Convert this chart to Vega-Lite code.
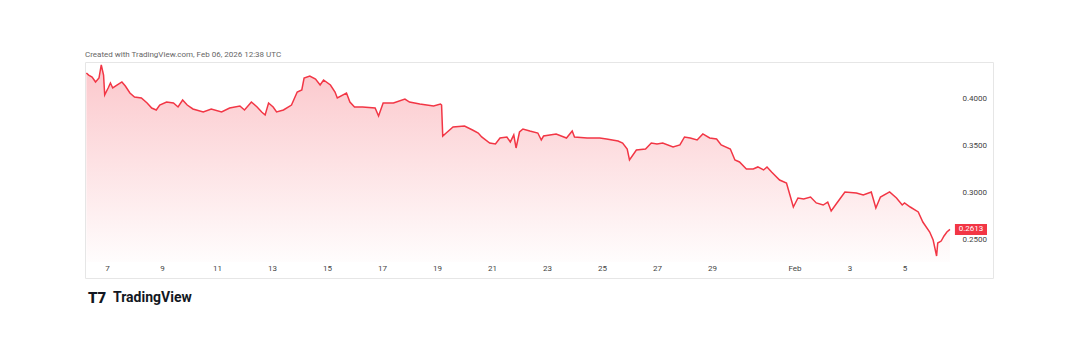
{
  "$schema": "https://vega.github.io/schema/vega-lite/v6.json",
  "width": 908,
  "height": 216,
  "autosize": {"type": "none"},
  "padding": {"left": 85, "top": 62, "right": 87, "bottom": 76},
  "background": "white",
  "config": {
    "view": {"stroke": "#e6e6e6", "strokeWidth": 1},
    "font": "Roboto",
    "axis": {"labelFont": "Roboto"}
  },
  "title": {
    "text": "Created with TradingView.com, Feb 06, 2026 12:38 UTC",
    "anchor": "start",
    "frame": "group",
    "fontSize": 8,
    "fontWeight": "normal",
    "color": "#666666",
    "font": "Roboto",
    "offset": 3
  },
  "datasets": {
    "price": [
      {"t": "2026-01-06T06:00:00Z", "v": 0.4277},
      {"t": "2026-01-06T08:00:00Z", "v": 0.4255},
      {"t": "2026-01-06T11:00:00Z", "v": 0.4234},
      {"t": "2026-01-06T14:00:00Z", "v": 0.4181},
      {"t": "2026-01-06T17:00:00Z", "v": 0.4223},
      {"t": "2026-01-06T19:00:00Z", "v": 0.4362},
      {"t": "2026-01-06T21:00:00Z", "v": 0.4255},
      {"t": "2026-01-06T22:00:00Z", "v": 0.4043},
      {"t": "2026-01-07T01:00:00Z", "v": 0.4117},
      {"t": "2026-01-07T03:00:00Z", "v": 0.4170},
      {"t": "2026-01-07T05:00:00Z", "v": 0.4117},
      {"t": "2026-01-07T09:00:00Z", "v": 0.4149},
      {"t": "2026-01-07T13:00:00Z", "v": 0.4181},
      {"t": "2026-01-07T16:00:00Z", "v": 0.4138},
      {"t": "2026-01-07T20:00:00Z", "v": 0.4064},
      {"t": "2026-01-08T00:00:00Z", "v": 0.4021},
      {"t": "2026-01-08T06:00:00Z", "v": 0.4011},
      {"t": "2026-01-08T11:00:00Z", "v": 0.3957},
      {"t": "2026-01-08T15:00:00Z", "v": 0.3904},
      {"t": "2026-01-08T19:00:00Z", "v": 0.3883},
      {"t": "2026-01-08T22:00:00Z", "v": 0.3936},
      {"t": "2026-01-09T04:00:00Z", "v": 0.3968},
      {"t": "2026-01-09T10:00:00Z", "v": 0.3957},
      {"t": "2026-01-09T14:00:00Z", "v": 0.3915},
      {"t": "2026-01-09T18:00:00Z", "v": 0.3989},
      {"t": "2026-01-09T22:00:00Z", "v": 0.3936},
      {"t": "2026-01-10T03:00:00Z", "v": 0.3894},
      {"t": "2026-01-10T12:00:00Z", "v": 0.3862},
      {"t": "2026-01-10T19:00:00Z", "v": 0.3894},
      {"t": "2026-01-11T04:00:00Z", "v": 0.3862},
      {"t": "2026-01-11T11:00:00Z", "v": 0.3904},
      {"t": "2026-01-11T20:00:00Z", "v": 0.3926},
      {"t": "2026-01-12T00:00:00Z", "v": 0.3883},
      {"t": "2026-01-12T06:00:00Z", "v": 0.3968},
      {"t": "2026-01-12T11:00:00Z", "v": 0.3915},
      {"t": "2026-01-12T15:00:00Z", "v": 0.3862},
      {"t": "2026-01-12T18:00:00Z", "v": 0.3830},
      {"t": "2026-01-12T21:00:00Z", "v": 0.3957},
      {"t": "2026-01-13T01:00:00Z", "v": 0.3915},
      {"t": "2026-01-13T04:00:00Z", "v": 0.3862},
      {"t": "2026-01-13T10:00:00Z", "v": 0.3883},
      {"t": "2026-01-13T17:00:00Z", "v": 0.3936},
      {"t": "2026-01-13T22:00:00Z", "v": 0.4074},
      {"t": "2026-01-14T02:00:00Z", "v": 0.4096},
      {"t": "2026-01-14T04:00:00Z", "v": 0.4223},
      {"t": "2026-01-14T09:00:00Z", "v": 0.4245},
      {"t": "2026-01-14T14:00:00Z", "v": 0.4213},
      {"t": "2026-01-14T18:00:00Z", "v": 0.4149},
      {"t": "2026-01-14T21:00:00Z", "v": 0.4202},
      {"t": "2026-01-15T03:00:00Z", "v": 0.4149},
      {"t": "2026-01-15T07:00:00Z", "v": 0.4074},
      {"t": "2026-01-15T09:00:00Z", "v": 0.4011},
      {"t": "2026-01-15T17:00:00Z", "v": 0.4064},
      {"t": "2026-01-15T20:00:00Z", "v": 0.3968},
      {"t": "2026-01-16T00:00:00Z", "v": 0.3915},
      {"t": "2026-01-16T07:00:00Z", "v": 0.3915},
      {"t": "2026-01-16T18:00:00Z", "v": 0.3904},
      {"t": "2026-01-16T21:00:00Z", "v": 0.3819},
      {"t": "2026-01-17T01:00:00Z", "v": 0.3957},
      {"t": "2026-01-17T10:00:00Z", "v": 0.3957},
      {"t": "2026-01-17T20:00:00Z", "v": 0.4000},
      {"t": "2026-01-18T00:00:00Z", "v": 0.3968},
      {"t": "2026-01-18T09:00:00Z", "v": 0.3947},
      {"t": "2026-01-18T21:00:00Z", "v": 0.3926},
      {"t": "2026-01-19T03:00:00Z", "v": 0.3947},
      {"t": "2026-01-19T04:00:00Z", "v": 0.3936},
      {"t": "2026-01-19T05:00:00Z", "v": 0.3606},
      {"t": "2026-01-19T08:00:00Z", "v": 0.3638},
      {"t": "2026-01-19T14:00:00Z", "v": 0.3702},
      {"t": "2026-01-20T00:00:00Z", "v": 0.3713},
      {"t": "2026-01-20T07:00:00Z", "v": 0.3670},
      {"t": "2026-01-20T12:00:00Z", "v": 0.3638},
      {"t": "2026-01-20T15:00:00Z", "v": 0.3596},
      {"t": "2026-01-20T22:00:00Z", "v": 0.3532},
      {"t": "2026-01-21T03:00:00Z", "v": 0.3521},
      {"t": "2026-01-21T07:00:00Z", "v": 0.3585},
      {"t": "2026-01-21T13:00:00Z", "v": 0.3596},
      {"t": "2026-01-21T16:00:00Z", "v": 0.3543},
      {"t": "2026-01-21T19:00:00Z", "v": 0.3617},
      {"t": "2026-01-21T21:00:00Z", "v": 0.3479},
      {"t": "2026-01-22T00:00:00Z", "v": 0.3649},
      {"t": "2026-01-22T03:00:00Z", "v": 0.3681},
      {"t": "2026-01-22T09:00:00Z", "v": 0.3660},
      {"t": "2026-01-22T16:00:00Z", "v": 0.3638},
      {"t": "2026-01-22T19:00:00Z", "v": 0.3564},
      {"t": "2026-01-22T21:00:00Z", "v": 0.3606},
      {"t": "2026-01-23T08:00:00Z", "v": 0.3628},
      {"t": "2026-01-23T17:00:00Z", "v": 0.3585},
      {"t": "2026-01-23T22:00:00Z", "v": 0.3660},
      {"t": "2026-01-24T00:00:00Z", "v": 0.3596},
      {"t": "2026-01-24T11:00:00Z", "v": 0.3585},
      {"t": "2026-01-24T22:00:00Z", "v": 0.3585},
      {"t": "2026-01-25T04:00:00Z", "v": 0.3574},
      {"t": "2026-01-25T14:00:00Z", "v": 0.3553},
      {"t": "2026-01-25T18:00:00Z", "v": 0.3532},
      {"t": "2026-01-25T22:00:00Z", "v": 0.3468},
      {"t": "2026-01-26T00:00:00Z", "v": 0.3351},
      {"t": "2026-01-26T06:00:00Z", "v": 0.3457},
      {"t": "2026-01-26T14:00:00Z", "v": 0.3468},
      {"t": "2026-01-26T19:00:00Z", "v": 0.3532},
      {"t": "2026-01-27T00:00:00Z", "v": 0.3521},
      {"t": "2026-01-27T05:00:00Z", "v": 0.3532},
      {"t": "2026-01-27T14:00:00Z", "v": 0.3489},
      {"t": "2026-01-27T20:00:00Z", "v": 0.3511},
      {"t": "2026-01-28T00:00:00Z", "v": 0.3596},
      {"t": "2026-01-28T05:00:00Z", "v": 0.3585},
      {"t": "2026-01-28T11:00:00Z", "v": 0.3564},
      {"t": "2026-01-28T16:00:00Z", "v": 0.3628},
      {"t": "2026-01-28T22:00:00Z", "v": 0.3585},
      {"t": "2026-01-29T04:00:00Z", "v": 0.3574},
      {"t": "2026-01-29T08:00:00Z", "v": 0.3511},
      {"t": "2026-01-29T16:00:00Z", "v": 0.3468},
      {"t": "2026-01-29T20:00:00Z", "v": 0.3351},
      {"t": "2026-01-30T00:00:00Z", "v": 0.3330},
      {"t": "2026-01-30T06:00:00Z", "v": 0.3255},
      {"t": "2026-01-30T12:00:00Z", "v": 0.3255},
      {"t": "2026-01-30T16:00:00Z", "v": 0.3277},
      {"t": "2026-01-30T21:00:00Z", "v": 0.3245},
      {"t": "2026-01-31T00:00:00Z", "v": 0.3277},
      {"t": "2026-01-31T04:00:00Z", "v": 0.3223},
      {"t": "2026-01-31T11:00:00Z", "v": 0.3138},
      {"t": "2026-01-31T17:00:00Z", "v": 0.3106},
      {"t": "2026-01-31T20:00:00Z", "v": 0.2979},
      {"t": "2026-01-31T23:00:00Z", "v": 0.2851},
      {"t": "2026-02-01T03:00:00Z", "v": 0.2947},
      {"t": "2026-02-01T08:00:00Z", "v": 0.2936},
      {"t": "2026-02-01T14:00:00Z", "v": 0.2957},
      {"t": "2026-02-01T19:00:00Z", "v": 0.2894},
      {"t": "2026-02-02T01:00:00Z", "v": 0.2872},
      {"t": "2026-02-02T05:00:00Z", "v": 0.2904},
      {"t": "2026-02-02T08:00:00Z", "v": 0.2809},
      {"t": "2026-02-02T13:00:00Z", "v": 0.2894},
      {"t": "2026-02-02T20:00:00Z", "v": 0.3011},
      {"t": "2026-02-03T06:00:00Z", "v": 0.3000},
      {"t": "2026-02-03T12:00:00Z", "v": 0.2979},
      {"t": "2026-02-03T19:00:00Z", "v": 0.3011},
      {"t": "2026-02-03T23:00:00Z", "v": 0.2840},
      {"t": "2026-02-04T03:00:00Z", "v": 0.2957},
      {"t": "2026-02-04T11:00:00Z", "v": 0.3011},
      {"t": "2026-02-04T17:00:00Z", "v": 0.2947},
      {"t": "2026-02-04T22:00:00Z", "v": 0.2872},
      {"t": "2026-02-05T00:00:00Z", "v": 0.2894},
      {"t": "2026-02-05T05:00:00Z", "v": 0.2851},
      {"t": "2026-02-05T12:00:00Z", "v": 0.2798},
      {"t": "2026-02-05T16:00:00Z", "v": 0.2691},
      {"t": "2026-02-05T22:00:00Z", "v": 0.2585},
      {"t": "2026-02-06T01:00:00Z", "v": 0.2500},
      {"t": "2026-02-06T04:00:00Z", "v": 0.2330},
      {"t": "2026-02-06T05:00:00Z", "v": 0.2468},
      {"t": "2026-02-06T08:00:00Z", "v": 0.2489},
      {"t": "2026-02-06T10:30:00Z", "v": 0.2543},
      {"t": "2026-02-06T13:00:00Z", "v": 0.2585},
      {"t": "2026-02-06T15:40:00Z", "v": 0.2613}
    ]
  },
  "layer": [
    {
      "data": {"name": "price"},
      "mark": {
        "type": "area",
        "clip": true,
        "fill": {
          "gradient": "linear",
          "x1": 0, "y1": 0, "x2": 0, "y2": 1,
          "stops": [
            {"offset": 0, "color": "rgba(242,54,69,0.28)"},
            {"offset": 1, "color": "rgba(242,54,69,0.01)"}
          ]
        }
      },
      "encoding": {
        "x": {
          "field": "t",
          "type": "temporal",
          "scale": {
            "type": "utc",
            "domain": [
              {"year": 2026, "month": 1, "date": 6, "hours": 4, "minutes": 48, "utc": true},
              {"year": 2026, "month": 2, "date": 8, "hours": 5, "minutes": 14, "utc": true}
            ]
          },
          "axis": {
            "orient": "bottom",
            "offset": -14,
            "title": null,
            "grid": false,
            "domain": false,
            "ticks": false,
            "tickSize": 0,
            "labelPadding": 0,
            "labelFontSize": 8,
            "labelColor": "#444444",
            "labelFlush": false,
            "labelOverlap": false,
            "values": [
              {"year": 2026, "month": 1, "date": 7, "utc": true},
              {"year": 2026, "month": 1, "date": 9, "utc": true},
              {"year": 2026, "month": 1, "date": 11, "utc": true},
              {"year": 2026, "month": 1, "date": 13, "utc": true},
              {"year": 2026, "month": 1, "date": 15, "utc": true},
              {"year": 2026, "month": 1, "date": 17, "utc": true},
              {"year": 2026, "month": 1, "date": 19, "utc": true},
              {"year": 2026, "month": 1, "date": 21, "utc": true},
              {"year": 2026, "month": 1, "date": 23, "utc": true},
              {"year": 2026, "month": 1, "date": 25, "utc": true},
              {"year": 2026, "month": 1, "date": 27, "utc": true},
              {"year": 2026, "month": 1, "date": 29, "utc": true},
              {"year": 2026, "month": 2, "date": 1, "utc": true},
              {"year": 2026, "month": 2, "date": 3, "utc": true},
              {"year": 2026, "month": 2, "date": 5, "utc": true}
            ],
            "labelExpr": "utcdate(datum.value) == 1 ? 'Feb' : '' + utcdate(datum.value)"
          }
        },
        "y": {
          "field": "v",
          "type": "quantitative",
          "scale": {"domain": [0.20957, 0.43936], "zero": false, "nice": false},
          "axis": {
            "orient": "right",
            "offset": -31,
            "title": null,
            "grid": false,
            "domain": false,
            "ticks": false,
            "tickSize": 0,
            "labelPadding": 0,
            "labelFontSize": 8,
            "labelColor": "#444444",
            "values": [0.25, 0.3, 0.35, 0.4],
            "format": ".4f"
          }
        },
        "y2": {"datum": 0.2266}
      }
    },
    {
      "data": {"name": "price"},
      "mark": {"type": "line", "color": "#f23645", "strokeWidth": 1.5, "clip": true},
      "encoding": {
        "x": {"field": "t", "type": "temporal"},
        "y": {"field": "v", "type": "quantitative"}
      }
    },
    {
      "data": {"values": [{"label": "0.2613"}]},
      "mark": {"type": "rect", "color": "#f23645"},
      "encoding": {
        "x": {"datum": {"year": 2026, "month": 2, "date": 6, "hours": 20, "utc": true}, "type": "temporal"},
        "x2": {"datum": {"year": 2026, "month": 2, "date": 8, "utc": true}},
        "y": {"datum": 0.2670, "type": "quantitative"},
        "y2": {"datum": 0.2553}
      }
    },
    {
      "data": {"values": [{"label": "0.2613"}]},
      "mark": {"type": "text", "color": "white", "fontSize": 8, "align": "center", "baseline": "middle", "font": "Roboto"},
      "encoding": {
        "x": {"datum": {"year": 2026, "month": 2, "date": 7, "hours": 10, "utc": true}, "type": "temporal"},
        "y": {"datum": 0.2613, "type": "quantitative"},
        "text": {"field": "label"}
      }
    },
    {
      "data": {"values": [{"label": "T7"}]},
      "mark": {"type": "text", "color": "#131722", "fontSize": 15, "fontWeight": 900, "align": "left", "baseline": "middle", "font": "Roboto"},
      "encoding": {
        "x": {"datum": {"year": 2026, "month": 1, "date": 6, "hours": 7, "minutes": 25, "utc": true}, "type": "temporal"},
        "y": {"datum": 0.1883, "type": "quantitative"},
        "text": {"field": "label"}
      }
    },
    {
      "data": {"values": [{"label": "TradingView"}]},
      "mark": {"type": "text", "color": "#131722", "fontSize": 14, "fontWeight": "bold", "align": "left", "baseline": "middle", "font": "Roboto"},
      "encoding": {
        "x": {"datum": {"year": 2026, "month": 1, "date": 7, "hours": 5, "minutes": 14, "utc": true}, "type": "temporal"},
        "y": {"datum": 0.1883, "type": "quantitative"},
        "text": {"field": "label"}
      }
    }
  ]
}
